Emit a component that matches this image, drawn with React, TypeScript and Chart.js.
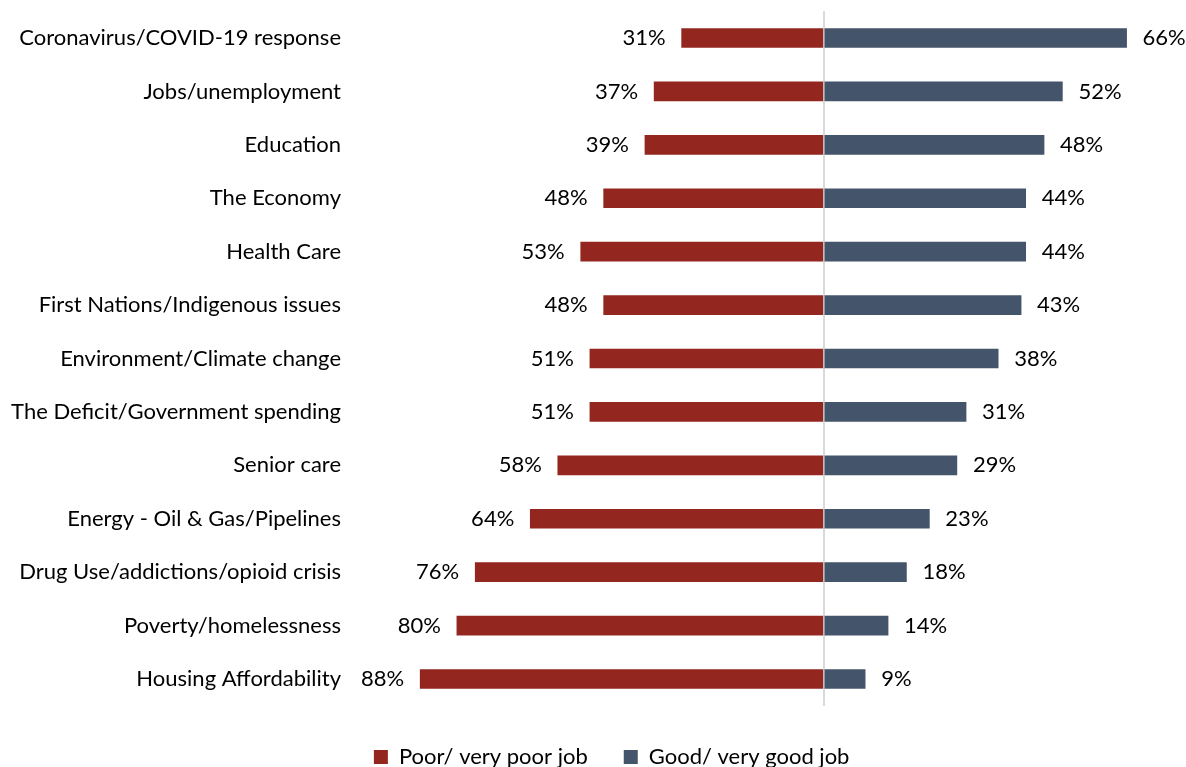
import React, { useEffect, useRef } from "react";
import { Chart, registerables } from "chart.js";

Chart.register(...registerables);

const categories = [
  "Coronavirus/COVID-19 response",
  "Jobs/unemployment",
  "Education",
  "The Economy",
  "Health Care",
  "First Nations/Indigenous issues",
  "Environment/Climate change",
  "The Deficit/Government spending",
  "Senior care",
  "Energy - Oil & Gas/Pipelines",
  "Drug Use/addictions/opioid crisis",
  "Poverty/homelessness",
  "Housing Affordability",
];
const poorValues = [31, 37, 39, 48, 53, 48, 51, 51, 58, 64, 76, 80, 88];
const goodValues = [66, 52, 48, 44, 44, 43, 38, 31, 29, 23, 18, 14, 9];
const seriesLabels = ["Poor/ very poor job", "Good/ very good job"];
const seriesColors = ["#93261F", "#44546A"];

const FONT = "Lato";
const FONT_SIZE = 22;

const valueLabels = {
  id: "valueLabels",
  afterDatasetsDraw(chart: any) {
    const ctx = chart.ctx;
    ctx.save();
    ctx.font = `${FONT_SIZE}px ${FONT}`;
    ctx.fillStyle = "#000";
    ctx.textBaseline = "middle";
    chart.data.datasets.forEach((ds: any, di: number) => {
      const meta = chart.getDatasetMeta(di);
      meta.data.forEach((bar: any, i: number) => {
        const raw = ds.data[i] as number;
        const { x, y } = bar.getProps(["x", "y"], true);
        const text = Math.abs(raw) + "%";
        if (raw < 0) {
          ctx.textAlign = "right";
          ctx.fillText(text, x - 16, y);
        } else {
          ctx.textAlign = "left";
          ctx.fillText(text, x + 16, y);
        }
      });
    });
    ctx.restore();
  },
};

const legendShift = {
  id: "legendShift",
  afterLayout(chart: any) {
    const lg = chart.legend;
    if (lg) {
      lg.left += 30;
      lg.right += 30;
    }
  },
};

export default function App() {
  const ref = useRef<HTMLCanvasElement>(null);
  useEffect(() => {
    if (!ref.current) return;
    const chart = new Chart(ref.current, {
      type: "bar",
      data: {
        labels: categories,
        datasets: [
          {
            label: seriesLabels[0],
            data: poorValues.map((v) => -v),
            backgroundColor: seriesColors[0],
            barThickness: 19,
          },
          {
            label: seriesLabels[1],
            data: goodValues,
            backgroundColor: seriesColors[1],
            barThickness: 19,
          },
        ],
      },
      options: {
        indexAxis: "y",
        responsive: false,
        animation: false,
        layout: { padding: { top: 11.3, left: 0, right: 22.7, bottom: 0 } },
        scales: {
          x: {
            type: "linear",
            min: -103.3,
            max: 74,
            stacked: true,
            ticks: { display: false, stepSize: 10 },
            grid: {
              drawTicks: false,
              lineWidth: 2,
              color: (c: any) => (c.tick && c.tick.value === 0 ? "#D9D9D9" : "rgba(0,0,0,0)"),
            },
            border: { display: false },
            afterFit: (s: any) => {
              s.height = 4.3;
              s.paddingLeft = 0;
              s.paddingRight = 0;
            },
          },
          y: {
            type: "category",
            stacked: true,
            grid: { display: false, drawTicks: false },
            border: { display: false },
            ticks: {
              padding: 9,
              color: "#000",
              font: { family: FONT, size: FONT_SIZE },
            },
            afterFit: (s: any) => {
              s.width = 350;
              s.paddingTop = 0;
              s.paddingBottom = 0;
            },
          },
        },
        plugins: {
          tooltip: { enabled: false },
          legend: {
            position: "bottom",
            labels: {
              boxWidth: 14,
              boxHeight: 14,
              padding: 36,
              color: "#000",
              font: { family: FONT, size: FONT_SIZE },
            },
          },
        },
      },
      plugins: [valueLabels, legendShift],
    });
    return () => chart.destroy();
  }, []);
  return (
    <div
      style={{
        position: "fixed",
        left: 0,
        top: 0,
        width: 1186,
        height: 767,
        overflow: "hidden",
        background: "#fff",
      }}
    >
      <canvas ref={ref} width={1186} height={778} style={{ display: "block" }} />
    </div>
  );
}
